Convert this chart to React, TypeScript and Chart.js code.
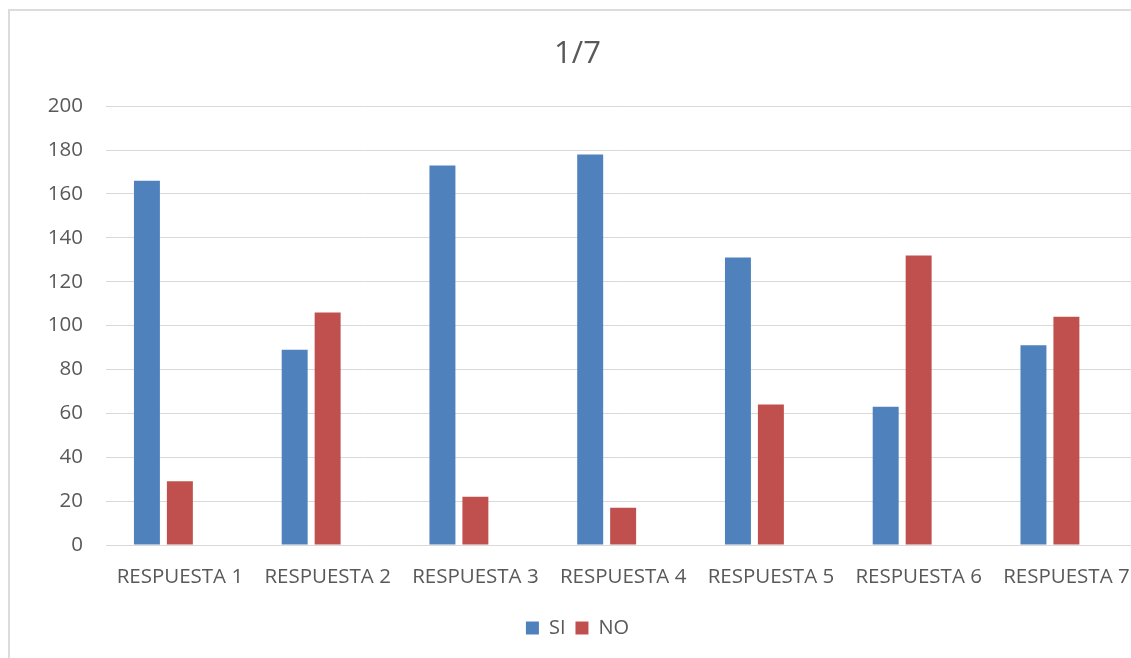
import React, { useEffect, useRef } from "react";
import { Chart, registerables } from "chart.js";

Chart.register(...registerables);

// Survey answers per question
const categories = [
  "RESPUESTA 1",
  "RESPUESTA 2",
  "RESPUESTA 3",
  "RESPUESTA 4",
  "RESPUESTA 5",
  "RESPUESTA 6",
  "RESPUESTA 7",
];
const siValues = [166, 89, 173, 178, 131, 63, 91];
const noValues = [29, 106, 22, 17, 64, 132, 104];
// third column of the sheet is left empty, it still takes a slot in each group
const blankValues: (number | null)[] = [];

const yTicks = [0, 20, 40, 60, 80, 100, 120, 140, 160, 180, 200];

const TEXT = "#595959";
const GRID = "#d9d9d9";
const FONT = "'Open Sans', sans-serif";

export default function App() {
  const canvasRef = useRef<HTMLCanvasElement | null>(null);

  useEffect(() => {
    const canvas = canvasRef.current;
    if (!canvas) return;
    const chart = new Chart(canvas, {
      type: "bar",
      data: {
        labels: categories,
        datasets: [
          {
            label: "SI",
            data: siValues,
            backgroundColor: "#4F81BD",
            categoryPercentage: 0.669,
            barPercentage: 0.788,
          },
          {
            label: "NO",
            data: noValues,
            backgroundColor: "#C0504D",
            categoryPercentage: 0.669,
            barPercentage: 0.788,
          },
          {
            label: "",
            data: blankValues,
            backgroundColor: "#9BBB59",
            categoryPercentage: 0.669,
            barPercentage: 0.788,
          },
        ],
      },
      options: {
        responsive: false,
        animation: false,
        layout: { padding: { left: 0, right: 5, top: 0, bottom: 23 } },
        plugins: {
          tooltip: { enabled: false },
          title: {
            display: true,
            text: "1/7",
            color: TEXT,
            font: { family: FONT, size: 31, weight: "normal", lineHeight: 1.2 },
            padding: { top: 25, bottom: 33 },
          },
          legend: {
            display: true,
            position: "bottom",
            labels: {
              color: TEXT,
              font: { family: FONT, size: 20 },
              boxWidth: 13,
              boxHeight: 13,
              padding: 10,
              filter: (item) => item.text !== "",
            },
          },
        },
        scales: {
          x: {
            grid: { display: false, drawTicks: false },
            border: { display: true, color: GRID, width: 1 },
            ticks: {
              color: TEXT,
              font: { family: FONT, size: 20.5 },
              padding: 20,
              maxRotation: 0,
              minRotation: 0,
              autoSkip: false,
            },
            afterFit: (scale) => {
              scale.height = 63;
            },
          },
          y: {
            min: 0,
            max: 200,
            grid: { color: GRID, lineWidth: 1, drawTicks: false },
            border: { display: false },
            afterBuildTicks: (scale) => {
              scale.ticks = yTicks.map((v) => ({ value: v }));
            },
            ticks: {
              color: TEXT,
              font: { family: FONT, size: 20.5 },
              padding: 23,
            },
            afterFit: (scale) => {
              scale.width = 96;
            },
          },
        },
      },
    });
    return () => chart.destroy();
  }, []);

  return (
    <div
      style={{
        position: "fixed",
        inset: 0,
        overflow: "hidden",
        background: "#ffffff",
      }}
    >
      <div
        style={{
          position: "absolute",
          left: 8,
          top: 9,
          width: 1144,
          height: 664,
          border: "2px solid #dcdcdc",
          background: "#ffffff",
        }}
      >
        <canvas ref={canvasRef} width={1140} height={660} style={{ display: "block" }} />
      </div>
    </div>
  );
}
